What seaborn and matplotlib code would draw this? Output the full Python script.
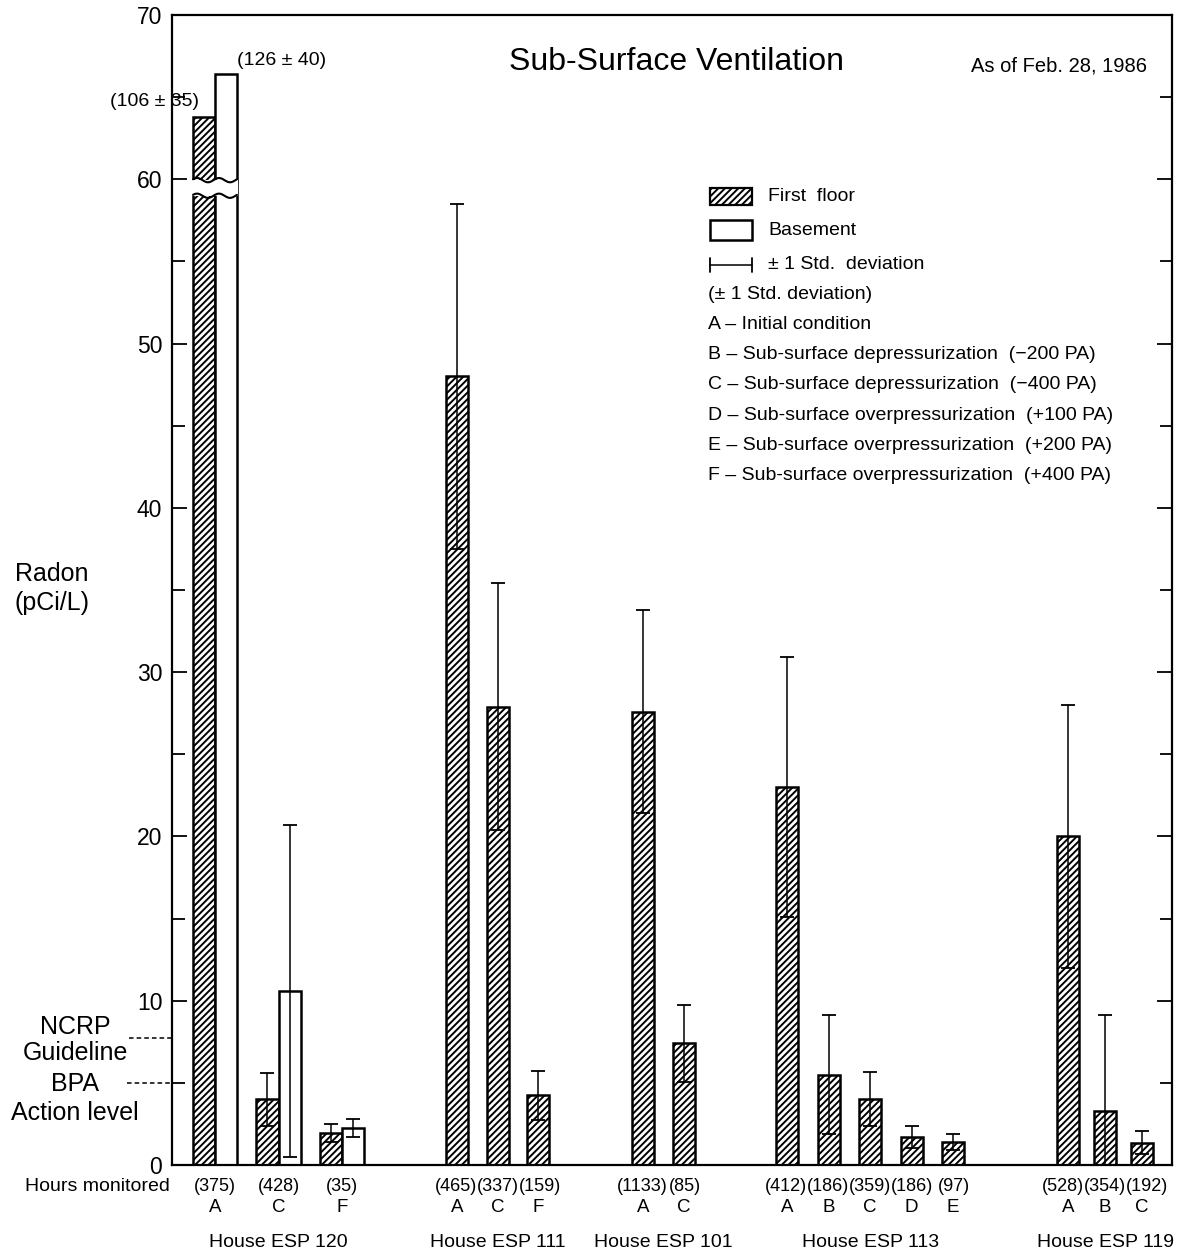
import matplotlib
matplotlib.use('Agg')
import matplotlib.pyplot as plt
import matplotlib.transforms as mtransforms
from matplotlib.patches import Rectangle
import numpy as np
import pandas as pd
import seaborn as sns


# ---- data ----
houses = ['House ESP 120', 'House ESP 111', 'House ESP 101', 'House ESP 113', 'House ESP 119']
conditions = [['A', 'C', 'F'], ['A', 'C', 'F'], ['A', 'C'], ['A', 'B', 'C', 'D', 'E'], ['A', 'B', 'C']]
hours = [[375, 428, 35], [465, 337, 159], [1133, 85], [412, 186, 359, 186, 97], [528, 354, 192]]
first_floor = [[106, 4.0, 1.95], [48.0, 27.9, 4.25], [27.6, 7.4], [23.0, 5.5, 4.0, 1.7, 1.4], [20.0, 3.3, 1.35]]
first_floor_std = [[35, 1.6, 0.55], [10.5, 7.5, 1.5], [6.2, 2.35], [7.9, 3.6, 1.65, 0.65, 0.5], [8.0, 5.8, 0.7]]
basement = [126, 10.6, 2.25]          # only measured in ESP 120
basement_std = [40, 10.1, 0.55]
ncrp_guideline = 7.7
bpa_action_level = 5.0

legend_lines = ['(\u00b1 1 Std. deviation)',
                'A \u2013 Initial condition',
                'B \u2013 Sub-surface depressurization  (\u2212200 PA)',
                'C \u2013 Sub-surface depressurization  (\u2212400 PA)',
                'D \u2013 Sub-surface overpressurization  (+100 PA)',
                'E \u2013 Sub-surface overpressurization  (+200 PA)',
                'F \u2013 Sub-surface overpressurization  (+400 PA)']

# ---- layout (x in axis units, axis spans 0..1000) ----
group_start = [32, 285, 471, 615, 896]
group_step = [63.5, 40.5, 41, 41.5, 37]
bar_w = 22
label_gap = 42      # minimum spacing of the "hours" labels
BREAK = 60


# values above the break are drawn on a compressed scale
def drawn(v):
    return v if v < BREAK else BREAK + (v - 76.8) * 0.13


rows = []
label_x = []
for g, house in enumerate(houses):
    for i, cond in enumerate(conditions[g]):
        x = group_start[g] + i * group_step[g]
        v = first_floor[g][i]
        rows.append(dict(x=x, value=drawn(v), raw=v, std=first_floor_std[g][i], floor='First floor',
                         house=house, cond=cond, hours=hours[g][i]))
        if g == 0:
            rows.append(dict(x=x + bar_w, value=drawn(basement[i]), raw=basement[i], std=basement_std[i],
                             floor='Basement', house=house, cond=cond, hours=hours[g][i]))
            label_x.append(x + bar_w / 2)
        else:
            label_x.append(x)
df = pd.DataFrame(rows)

sns.set_style('ticks')
plt.rcParams['font.family'] = ['Liberation Sans', 'DejaVu Sans']
plt.rcParams['hatch.linewidth'] = 1.4
plt.rcParams['text.color'] = 'black'
plt.rcParams['ytick.color'] = 'black'
plt.rcParams['xtick.color'] = 'black'
plt.rcParams['axes.labelcolor'] = 'black'

fig = plt.figure(figsize=(11.78, 12.54), dpi=100)
ax = fig.add_axes([0.146, 0.071, 0.849, 0.917])

sns.barplot(data=df, x='x', y='value', hue='floor', hue_order=['First floor', 'Basement'],
            palette={'First floor': 'white', 'Basement': 'white'}, native_scale=True,
            dodge=False, width=1.0, errorbar=None, edgecolor='black', linewidth=1.8,
            legend=False, ax=ax)
for p in ax.containers[0]:
    p.set_hatch('/////')

# error bars (not drawn for the broken bars)
eb = df[df['raw'] < BREAK]
lower = np.minimum(eb['std'], eb['value'])
ax.errorbar(eb['x'], eb['value'], yerr=[lower, eb['std']], fmt='none', ecolor='black',
            elinewidth=1.1, capsize=5, capthick=1.3, zorder=4)

# axis break on the ESP 120 A pair
brk = df[df['raw'] >= BREAK]
x0 = brk['x'].min() - bar_w / 2 - 1.5
x1 = brk['x'].max() + bar_w / 2 + 1.5
ax.add_patch(Rectangle((x0, 59.0), x1 - x0, 0.95, facecolor='white', edgecolor='none', zorder=5))
xs = np.linspace(x0 + 1.5, x1 - 1.5, 60)
wave = 0.13 * np.sin((xs - x0) / (bar_w / 2) * np.pi)
ax.plot(xs, 59.95 + wave, color='black', lw=1.5, zorder=6)
ax.plot(xs, 59.0 + wave, color='black', lw=1.5, zorder=6)

# value annotations for the broken bars
ff = brk[brk['floor'] == 'First floor'].iloc[0]
bs = brk[brk['floor'] == 'Basement'].iloc[0]
ax.annotate(f"({ff['raw']:.0f} \u00b1 {ff['std']:.0f})", (ff['x'] - bar_w / 2, ff['value']),
            xytext=(4, 5), textcoords='offset points', ha='right', va='bottom', fontsize=14)
ax.annotate(f"({bs['raw']:.0f} \u00b1 {bs['std']:.0f})", (bs['x'] + bar_w / 2, bs['value']),
            xytext=(0, 4), textcoords='offset points', ha='left', va='bottom', fontsize=14)

# axes styling
ax.set_xlim(0, 1000)
ax.set_ylim(0, 70)
ax.set_yticks(np.arange(0, 71, 10))
ax.set_yticks(np.arange(5, 70, 10), minor=True)
ax.set_xticks([])
ax.tick_params(axis='y', which='both', direction='in', left=True, right=True, width=1.3,
               labelsize=16.5, pad=7)
ax.tick_params(axis='y', which='major', length=11)
ax.tick_params(axis='y', which='minor', length=9)
for s in ax.spines.values():
    s.set_visible(True)
    s.set_linewidth(1.6)
    s.set_color('black')
ax.set_xlabel('')
ax.set_ylabel('')

# x labels: hours, condition letters, houses
tb = mtransforms.blended_transform_factory(ax.transData, ax.transAxes)
k = 0
for g, house in enumerate(houses):
    n = len(conditions[g])
    xs_g = label_x[k:k + n]
    centre = np.mean(xs_g)
    gap = max(group_step[g], label_gap)
    for i in range(n):
        hx = centre + (i - (n - 1) / 2) * gap
        ax.text(hx, -0.019, f'({hours[g][i]})', transform=tb, ha='center', va='center', fontsize=13)
        ax.text(xs_g[i], -0.037, conditions[g][i], transform=tb, ha='center', va='center',
                fontsize=13.5)
    ax.text(centre, -0.067, house, transform=tb, ha='center', va='center', fontsize=14)
    k += n
ax.text(-0.002, -0.019, 'Hours monitored', transform=ax.transAxes, ha='right', va='center',
        fontsize=14)

# y label and reference levels
ax.text(-0.12, 0.514, 'Radon', transform=ax.transAxes, ha='center', va='center', fontsize=18)
ax.text(-0.12, 0.489, '(pCi/L)', transform=ax.transAxes, ha='center', va='center', fontsize=18)
ty = mtransforms.blended_transform_factory(ax.transAxes, ax.transData)
ax.plot([-0.043, 0], [ncrp_guideline] * 2, transform=ty, color='black', ls=(0, (3, 2)), lw=1.1,
        clip_on=False)
ax.plot([-0.045, 0], [bpa_action_level] * 2, transform=ty, color='black', ls=(0, (3, 2)), lw=1.1,
        clip_on=False)
for txt, yp in [('NCRP', 0.120), ('Guideline', 0.097), ('BPA', 0.070), ('Action level', 0.045)]:
    ax.text(-0.097, yp, txt, transform=ax.transAxes, ha='center', va='center', fontsize=18)

# title and date
ax.text(0.504, 0.959, 'Sub-Surface Ventilation', transform=ax.transAxes, ha='center',
        va='center', fontsize=23)
ax.text(0.887, 0.956, 'As of Feb. 28, 1986', transform=ax.transAxes, ha='center', va='center',
        fontsize=14.5)

# legend drawn by hand
def fx(px):
    return (px - 172) / 1000


def fy(py):
    return (1165 - py) / 1150


ax.add_patch(Rectangle((fx(710), fy(205)), 0.042, 17 / 1150, transform=ax.transAxes,
                       facecolor='white', edgecolor='black', hatch='/////', lw=1.6))
ax.add_patch(Rectangle((fx(710), fy(240)), 0.042, 20 / 1150, transform=ax.transAxes,
                       facecolor='white', edgecolor='black', lw=1.8))
ax.plot([fx(710), fx(752)], [fy(265)] * 2, transform=ax.transAxes, color='black', lw=1.1)
ax.plot([fx(710)] * 2, [fy(258), fy(272)], transform=ax.transAxes, color='black', lw=1.3)
ax.plot([fx(752)] * 2, [fy(258), fy(272)], transform=ax.transAxes, color='black', lw=1.3)
for txt, py in [('First  floor', 196), ('Basement', 230), ('\u00b1 1 Std.  deviation', 264)]:
    ax.text(fx(768), fy(py), txt, transform=ax.transAxes, ha='left', va='center', fontsize=14)
for i, txt in enumerate(legend_lines):
    ax.text(fx(708), fy(294 + 30.3 * i), txt, transform=ax.transAxes, ha='left', va='center',
            fontsize=14)

fig.savefig('out.png', dpi=100)
